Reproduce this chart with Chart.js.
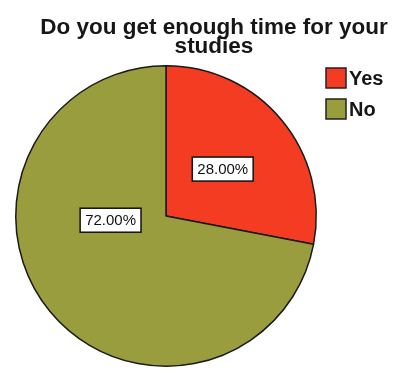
<!DOCTYPE html>
<html>
<head>
<meta charset="utf-8">
<style>
  html, body { margin: 0; padding: 0; background: #ffffff; }
  #wrap { width: 394px; height: 370px; position: relative; }
</style>
<script src="https://cdn.jsdelivr.net/npm/chart.js@4/dist/chart.umd.min.js"></script>
</head>
<body>
<div id="wrap"><canvas id="pie" width="394" height="370"></canvas></div>
<script>
// Survey answers: share of respondents (percent)
const categories = ['Yes', 'No'];
const shares = [28.00, 72.00];
const sliceColors = ['#f33c22', '#9a9d3e'];
const titleLines = ['Do you get enough time for your', 'studies'];

// Title drawn above the pie
const titlePlugin = {
  id: 'twoLineTitle',
  afterDraw(chart, args, opts) {
    const ctx = chart.ctx;
    ctx.save();
    ctx.fillStyle = '#161616';
    ctx.font = 'bold 22.5px "Liberation Sans", Arial, sans-serif';
    ctx.textAlign = 'center';
    ctx.textBaseline = 'alphabetic';
    titleLines.forEach((line, i) => ctx.fillText(line, opts.x, opts.y + i * opts.lineHeight));
    ctx.restore();
  }
};

// Legend on the right with square swatches
const legendPlugin = {
  id: 'sideLegend',
  afterDraw(chart, args, opts) {
    const ctx = chart.ctx;
    const ds = chart.data.datasets[0];
    ctx.save();
    ctx.font = 'bold 20px "Liberation Sans", Arial, sans-serif';
    ctx.textBaseline = 'middle';
    ctx.textAlign = 'left';
    chart.data.labels.forEach((lab, i) => {
      const y = opts.y + i * opts.step;
      ctx.fillStyle = ds.backgroundColor[i];
      ctx.fillRect(opts.x, y, opts.box, opts.box);
      ctx.strokeStyle = '#222';
      ctx.lineWidth = 1.5;
      ctx.strokeRect(opts.x, y, opts.box, opts.box);
      ctx.fillStyle = '#161616';
      ctx.fillText(lab, opts.x + opts.box + 3, y + opts.box / 2 + 1);
    });
    ctx.restore();
  }
};

// Boxed percentage labels inside the slices
const valueLabelPlugin = {
  id: 'boxedValues',
  afterDatasetsDraw(chart, args, opts) {
    const ctx = chart.ctx;
    const meta = chart.getDatasetMeta(0);
    ctx.save();
    ctx.font = '15px "Liberation Sans", Arial, sans-serif';
    ctx.textAlign = 'center';
    ctx.textBaseline = 'middle';
    meta.data.forEach((arc, i) => {
      const p = arc.getProps(['x', 'y', 'startAngle', 'endAngle', 'outerRadius'], true);
      const a = p.startAngle + (p.endAngle - p.startAngle) * opts.angleFrac[i];
      const r = p.outerRadius * opts.radiusFrac[i];
      const cx = p.x + Math.cos(a) * r;
      const cy = p.y + Math.sin(a) * r;
      const txt = chart.data.datasets[0].data[i].toFixed(2) + '%';
      const w = ctx.measureText(txt).width + 10;
      const h = 24;
      ctx.fillStyle = '#ffffff';
      ctx.fillRect(cx - w / 2, cy - h / 2, w, h);
      ctx.strokeStyle = '#111';
      ctx.lineWidth = 1.5;
      ctx.strokeRect(cx - w / 2, cy - h / 2, w, h);
      ctx.fillStyle = '#111';
      ctx.fillText(txt, cx, cy + 1);
    });
    ctx.restore();
  }
};

new Chart(document.getElementById('pie'), {
  type: 'pie',
  data: {
    labels: categories,
    datasets: [{
      data: shares,
      backgroundColor: sliceColors,
      borderColor: '#1a1a1a',
      borderWidth: 1.5
    }]
  },
  options: {
    responsive: false,
    animation: false,
    rotation: 0,
    layout: { padding: { left: 15, right: 77, top: 65, bottom: 3 } },
    plugins: {
      legend: { display: false },
      title: { display: false },
      tooltip: { enabled: false },
      twoLineTitle: { x: 214, y: 34, lineHeight: 19 },
      sideLegend: { x: 326, y: 68, step: 31, box: 20 },
      boxedValues: { angleFrac: [0.5, 0.636], radiusFrac: [0.49, 0.37] }
    }
  },
  plugins: [titlePlugin, legendPlugin, valueLabelPlugin]
});
</script>
</body>
</html>
